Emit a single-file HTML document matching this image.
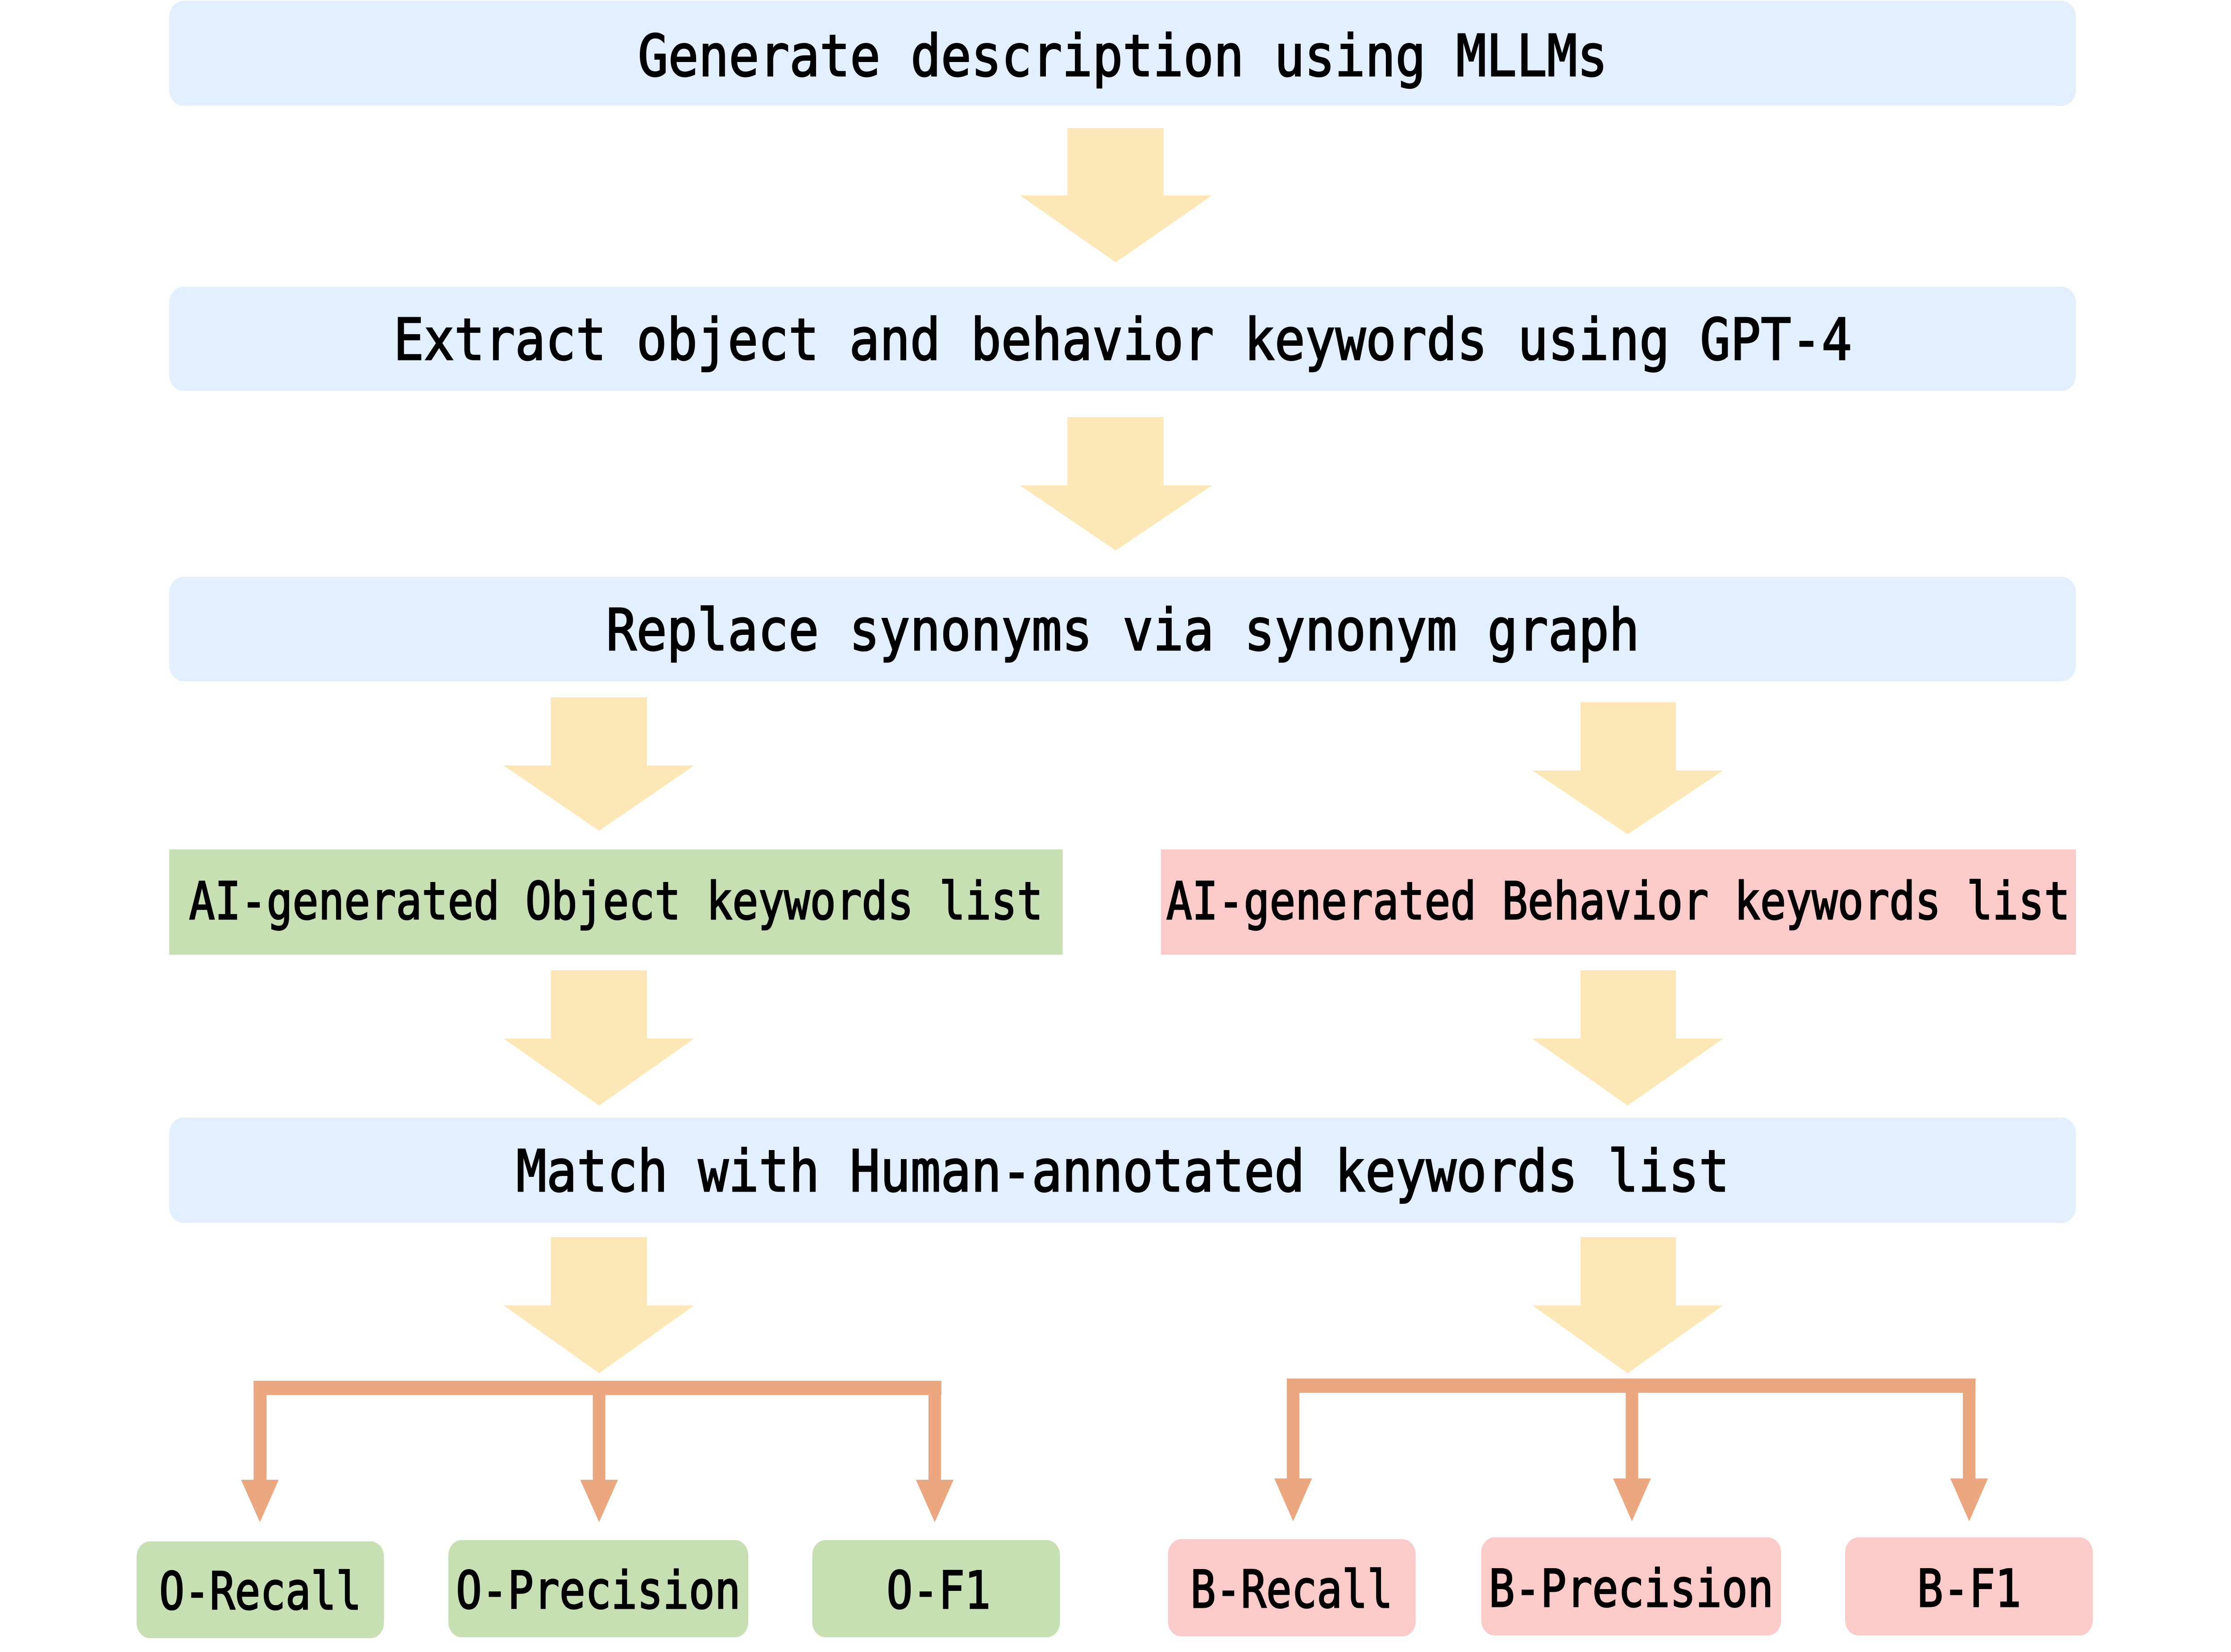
<!DOCTYPE html>
<html><head><meta charset="utf-8"><style>
html,body{margin:0;padding:0;background:#fff;width:100%;height:100%;overflow:hidden;}
svg{display:block;position:fixed;left:0;top:0;width:100vw;height:100vh;}
text{font-family:"DejaVu Sans Mono","Liberation Mono",monospace;fill:#000;stroke:#000;stroke-width:3;}
</style></head><body>
<svg viewBox="0 0 5683 3703" preserveAspectRatio="none" xmlns="http://www.w3.org/2000/svg">
<g fill="#E1EFFE">
<rect x="431" y="2" width="4857" height="235" rx="36"/>
<rect x="431" y="643" width="4857" height="233" rx="36"/>
<rect x="431" y="1293" width="4857" height="234" rx="36"/>
<rect x="431" y="2505" width="4857" height="236" rx="36"/>
</g>
<rect x="431" y="1904" width="2276" height="236" fill="#C6E0B4"/>
<rect x="2957" y="1904" width="2331" height="236" fill="#FBCBC9"/>
<g fill="#C6E0B4">
<rect x="348" y="3455" width="630" height="217" rx="34"/>
<rect x="1142" y="3452" width="764" height="218" rx="34"/>
<rect x="2069" y="3452" width="631" height="218" rx="34"/>
</g>
<g fill="#FBCBC9">
<rect x="2975" y="3450" width="631" height="218" rx="34"/>
<rect x="3773" y="3446" width="764" height="220" rx="34"/>
<rect x="4700" y="3446" width="631" height="220" rx="34"/>
</g>
<g fill="#FDE7B7">
<polygon points="2719,287 2964,287 2964,438 3087,438 2842,588 2598,438 2719,438"/>
<polygon points="2719,935 2964,935 2964,1088 3087,1088 2842,1234 2598,1088 2719,1088"/>
<polygon points="1403,1563 1648,1563 1648,1716 1768,1716 1526,1862 1283,1716 1403,1716"/>
<polygon points="4026,1574 4269,1574 4269,1727 4389,1727 4146,1870 3903,1727 4026,1727"/>
<polygon points="1403,2175 1648,2175 1648,2328 1768,2328 1526,2478 1283,2328 1403,2328"/>
<polygon points="4026,2175 4269,2175 4269,2328 4389,2328 4146,2478 3903,2328 4026,2328"/>
<polygon points="1403,2773 1648,2773 1648,2926 1768,2926 1526,3078 1283,2926 1403,2926"/>
<polygon points="4026,2773 4269,2773 4269,2926 4389,2926 4146,3078 3903,2926 4026,2926"/>
</g>
<g fill="#EBA77F">
<rect x="646" y="3095" width="1752" height="32"/>
<rect x="646" y="3095" width="33" height="224"/>
<rect x="1510" y="3095" width="32" height="224"/>
<rect x="2365" y="3095" width="32" height="224"/>
<polygon points="614,3317 710,3317 662,3412"/>
<polygon points="1478,3317 1574,3317 1526,3412"/>
<polygon points="2333,3317 2429,3317 2381,3412"/>
<rect x="3278" y="3090" width="1754" height="32"/>
<rect x="3278" y="3090" width="32" height="226"/>
<rect x="4141" y="3090" width="32" height="226"/>
<rect x="5000" y="3090" width="32" height="226"/>
<polygon points="3246,3314 3342,3314 3294,3410"/>
<polygon points="4109,3314 4205,3314 4157,3410"/>
<polygon points="4968,3314 5064,3314 5016,3410"/>
</g>
<g font-size="129" text-anchor="middle">
<text x="2860" y="170" textLength="2470" lengthAdjust="spacingAndGlyphs">Generate description using MLLMs</text>
<text x="2860" y="806" textLength="3715" lengthAdjust="spacingAndGlyphs">Extract object and behavior keywords using GPT-4</text>
<text x="2860" y="1457" textLength="2632" lengthAdjust="spacingAndGlyphs">Replace synonyms via synonym graph</text>
<text x="2860" y="2670" textLength="3090" lengthAdjust="spacingAndGlyphs">Match with Human-annotated keywords list</text>
</g>
<g font-size="116" text-anchor="middle">
<text x="1569" y="2060" textLength="2175" lengthAdjust="spacingAndGlyphs">AI-generated Object keywords list</text>
<text x="4122" y="2060" textLength="2302" lengthAdjust="spacingAndGlyphs">AI-generated Behavior keywords list</text>
<text x="663" y="3607" textLength="515" lengthAdjust="spacingAndGlyphs">O-Recall</text>
<text x="1524" y="3605" textLength="725" lengthAdjust="spacingAndGlyphs">O-Precision</text>
<text x="2391" y="3605" textLength="265" lengthAdjust="spacingAndGlyphs">O-F1</text>
<text x="3290" y="3603" textLength="515" lengthAdjust="spacingAndGlyphs">B-Recall</text>
<text x="4155" y="3601" textLength="725" lengthAdjust="spacingAndGlyphs">B-Precision</text>
<text x="5016" y="3601" textLength="265" lengthAdjust="spacingAndGlyphs">B-F1</text>
</g>
</svg>
</body></html>
